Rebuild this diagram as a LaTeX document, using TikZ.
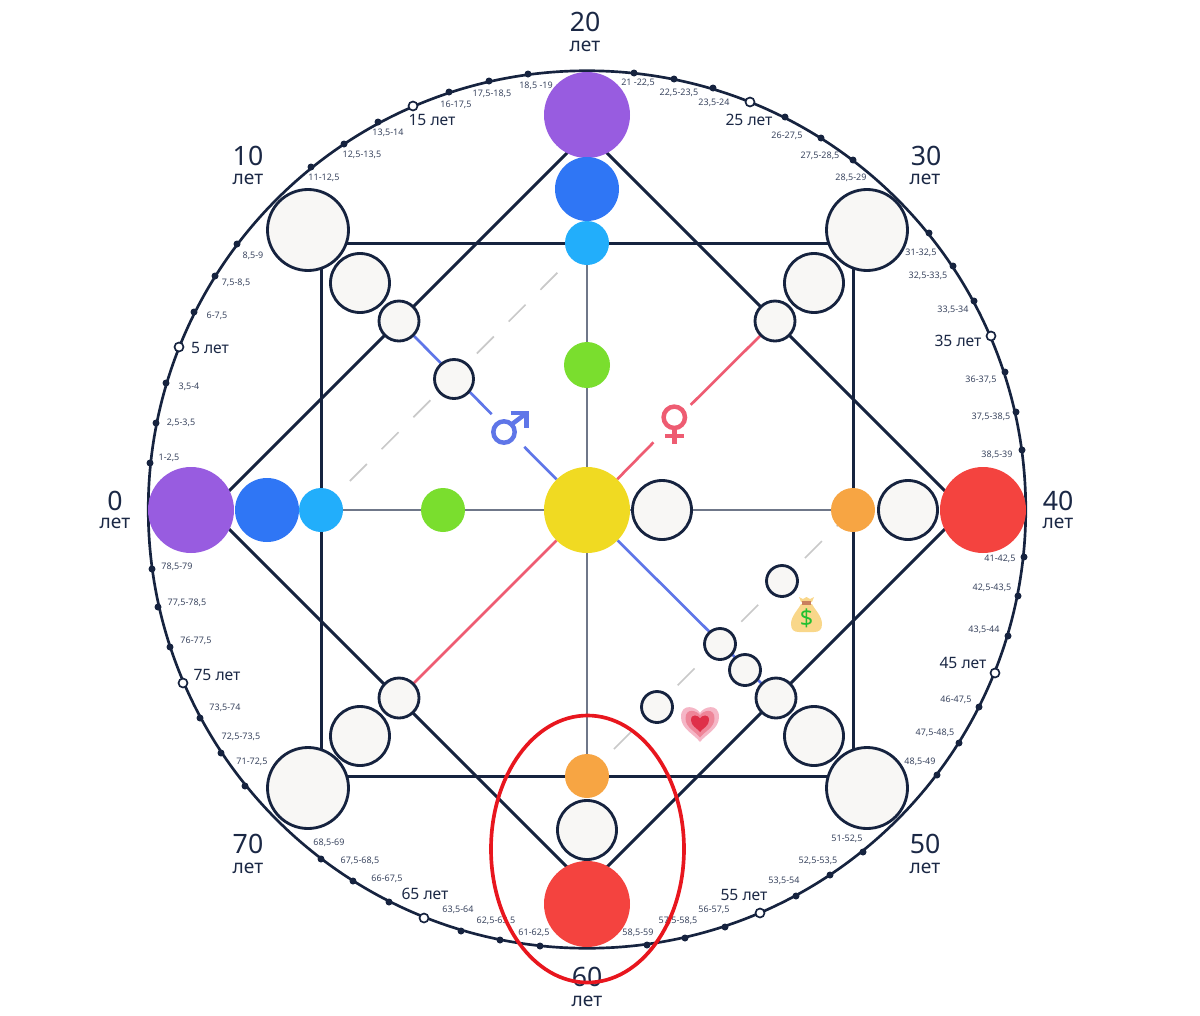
\documentclass[tikz,border=0pt]{standalone}
\usepackage{fontspec}
\setmainfont{Noto Sans}
\usetikzlibrary{backgrounds}
\definecolor{navy}{HTML}{16233F}
\definecolor{ink}{HTML}{1B2845}
\definecolor{smallink}{HTML}{3B4660}
\definecolor{paper}{HTML}{F8F7F5}
\definecolor{cpurple}{HTML}{985CE0}
\definecolor{cblue}{HTML}{2F76F5}
\definecolor{csky}{HTML}{22AEFB}
\definecolor{cgreen}{HTML}{7ADE2E}
\definecolor{cyellow}{HTML}{F0DA22}
\definecolor{corange}{HTML}{F7A543}
\definecolor{cred}{HTML}{F4433F}
\definecolor{malec}{HTML}{5F76E8}
\definecolor{femalec}{HTML}{EE5C72}
\definecolor{axisgray}{HTML}{6F7789}
\definecolor{dashgray}{HTML}{C9C9C9}
\definecolor{ovalred}{HTML}{E8161E}
\definecolor{bagc}{HTML}{F9D78A}
\definecolor{tiec}{HTML}{C9805F}
\definecolor{dollarc}{HTML}{22C030}
\tikzset{
  disc/.style={circle,inner sep=0pt,outer sep=0pt,minimum size=#1*0.6pt},
  ball/.style 2 args={disc=#1,fill=#2},
  ringdisc/.style={disc=#1,draw=navy,line width=1.7pt,fill=paper},
  ticksolid/.style={disc=7,fill=navy},
  tickopen/.style={disc=9,fill=white,draw=navy,line width=1pt},
  bigage/.style={text=ink,font=\fontsize{16}{18}\selectfont,inner sep=0pt},
  bigunit/.style={text=ink,font=\fontsize{11.5}{13}\selectfont,inner sep=0pt},
  midage/.style={text=ink,font=\fontsize{9.4}{11}\selectfont,inner sep=0pt},
  tinyage/.style={text=smallink,font=\fontsize{5.4}{6}\selectfont,inner sep=0pt},
  heavy/.style={draw=navy,line width=1.8pt},
  axisline/.style={draw=axisgray,line width=1.6pt},
  maleline/.style={draw=malec,line width=1.6pt},
  femaleline/.style={draw=femalec,line width=1.6pt},
  dashline/.style={draw=dashgray,line width=1pt,dash pattern=on 14.4pt off 12.6pt},
  symbolstroke/.style={line width=2.7pt,line cap=butt},
}
\begin{document}
\begin{tikzpicture}[x=0.6pt,y=-0.6pt]
\useasboundingbox (0,0) rectangle (1200,1016);

% coloured nodes
\node[ball={86}{cpurple}] (pT) at (587,115) {};
\node[ball={64}{cblue}]   (bT) at (587,189) {};
\node[ball={44}{csky}]    (sT) at (587,243) {};
\node[ball={46}{cgreen}]  (gT) at (587,365) {};
\node[ball={86}{cyellow}] (Y)  at (587,510) {};
\node[ball={86}{cpurple}] (pL) at (191,510) {};
\node[ball={64}{cblue}]   (bL) at (267,510) {};
\node[ball={44}{csky}]    (sL) at (321,510) {};
\node[ball={44}{cgreen}]  (gL) at (443,510) {};
\node[ball={44}{corange}] (oR) at (853,510) {};
\node[ball={86}{cred}]    (rR) at (983,510) {};
\node[ball={44}{corange}] (oB) at (587,776) {};
\node[ball={86}{cred}]    (rB) at (587,904) {};
% white nodes
\node[ringdisc=59] (wR1) at (662,510) {};
\node[ringdisc=59] (wR2) at (908,510) {};
\node[ringdisc=59] (wB)  at (587,830) {};
\foreach \n/\x/\y in {TL/308/230,TR/867/230,BL/308/788,BR/867/788}
  \node[ringdisc=81] (big\n) at (\x,\y) {};
\foreach \n/\x/\y in {TL/360/283,TR/814/283,BL/360/736,BR/814/736}
  \node[ringdisc=59] (mid\n) at (\x,\y) {};
\foreach \n/\x/\y in {TL/399/321,TR/775/321,BL/399/698,BR/776/698}
  \node[ringdisc=40] (sm\n) at (\x,\y) {};
\node[ringdisc=39] (xA) at (454,379) {};
\foreach \n/\x/\y in {B/782/581,C/720/644,D/745/670,E/657/707}
  \node[ringdisc=31] (x\n) at (\x,\y) {};

% gaps kept free for the two symbols
\node[disc=46] (maleSym) at (508,430.5) {};
\node[disc=53] (femaleSym) at (672,423.5) {};

% square corners
\coordinate (qTL) at (321,243);
\coordinate (qTR) at (853,243);
\coordinate (qBR) at (853,776);
\coordinate (qBL) at (321,776);
% diamond corners (hidden under the large discs)
\coordinate (dT) at (587,133);
\coordinate (dR) at (964,510);
\coordinate (dB) at (587,887);
\coordinate (dL) at (210,510);

\begin{scope}[on background layer]
  \node[circle,draw=navy,line width=1.6pt,inner sep=0pt,outer sep=0pt,minimum size=526.5pt] (ring) at (587,509.5) {};
  \draw[heavy] (qTL) -- (qTR) -- (qBR) -- (qBL) -- cycle;
  \draw[heavy] (dT) -- (dR) -- (dB) -- (dL) -- cycle;
  \draw[axisline] (sT.center) -- (oB.center);
  \draw[axisline] (sL.center) -- (oR.center);
  \draw[maleline] (smTL) -- (maleSym);
  \draw[maleline] (maleSym) -- (Y);
  \draw[maleline] (Y) -- (smBR);
  \draw[femaleline] (smTR) -- (femaleSym);
  \draw[femaleline] (femaleSym) -- (Y);
  \draw[femaleline] (Y) -- (smBL);
  \draw[dashline,dash phase=1.8pt] (sT.center) -- (sL.center);
  \draw[dashline,dash phase=0.6pt] (oR.center) -- (oB.center);
\end{scope}

% male symbol
\draw[malec,symbolstroke] (504,432) circle (10.7);
\draw[malec,symbolstroke] (511.5,424.5) -- (526,413.5);
\draw[malec,symbolstroke] (510.5,413) -- (526.5,413) -- (526.5,428);
% female symbol
\draw[femalec,symbolstroke] (674.3,417.3) circle (10.7);
\draw[femalec,symbolstroke] (674.3,428) -- (674.3,444);
\draw[femalec,symbolstroke] (665,436) -- (683.5,436);

% money bag
\fill[bagc] (801,604) .. controls (798,610) and (791,616) .. (791,624) .. controls (791,630) and (794,632) .. (799,632) -- (814,632) .. controls (819,632) and (822,630) .. (822,624) .. controls (822,616) and (815,610) .. (812,604) -- cycle;
\fill[bagc] (799,597) -- (803,599) -- (806.5,597) -- (810,599) -- (814,597) -- (812,602) -- (801,602) -- cycle;
\fill[tiec] (802,601) rectangle (811,604.5);
\node[inner sep=0pt,text=dollarc,font=\fontsize{14}{14}\bfseries\selectfont] (dollar) at (806.5,618.5) {\$};

% heart
\foreach \s/\c in {19/F5B6C6,14.5/EE8699,9/DF3049}{
  \definecolor{heartc}{HTML}{\c}
  \begin{scope}[shift={(700,723)},scale=\s/19]
    \fill[heartc] (0,-10) .. controls (-3,-16) and (-19,-21) .. (-19,-6) .. controls (-19,6) and (-6,11) .. (0,19) .. controls (6,11) and (19,6) .. (19,-6) .. controls (19,-21) and (3,-16) .. (0,-10) -- cycle;
  \end{scope}
}

% ticks on the ring
\foreach \x/\y [count=\i] in {528/74,489/81,449/92,378/122,344/144,311/167,237/244,215/276,194/312,166/383,156/423,150/463,634/73,674/79,713/88,785/117,821/138,853/160,929/233,953/266,974/301,1005/372,1016/412,1022/450,152/569,158/607,170/647,200/718,221/753,245/786,321/859,353/881,389/902,461/931,500/940,540/946,1024/557,1018/596,1008/636,979/707,959/743,937/775,863/852,830/875,796/896,725/927,685/938,647/945}
  \node[ticksolid] (tick\i) at (\x,\y) {};
\foreach \x/\y [count=\i] in {413/106,179/347,750/102,991/336,183/683,424/918,995/673,760/913}
  \node[tickopen] (open\i) at (\x,\y) {};

% big age labels
\foreach \x/\y/\t [count=\i] in {585/22/20,248/156/10,926/156/30,115/501/0,1058/501/40,248/844/70,925/844/50,587/977/60}
  \node[bigage] (age\i) at (\x,\y) {\t};
\foreach \x/\y [count=\i] in {585/46,248/179,925/179,115/523,1058/523,248/868,925/868,587/1001}
  \node[bigunit] (unit\i) at (\x,\y) {лет};
% middle labels
\foreach \x/\y/\t [count=\i] in {432/120/15,210/348/5,749/120/25,958/341/35,217/675/75,425/894/65,963/663/45,744/895/55}
  \node[midage] (mid\i) at (\x,\y) {\t{} лет};
% small labels
\foreach \x/\y/\t [count=\i] in {
 536/86/{18,5 -19},492/94/{17,5-18,5},456/105/{16-17,5},388/133/{13,5-14},362/155/{12,5-13,5},324/178/{11-12,5},
 253/256/{8,5-9},236/283/{7,5-8,5},217/316/{6-7,5},189/387/{3,5-4},181/423/{2,5-3,5},169/458/{1-2,5},
 638/83/{21 -22,5},679/93/{22,5-23,5},714/103/{23,5-24},787/136/{26-27,5},820/156/{27,5-28,5},851/178/{28,5-29},
 921/253/{31-32,5},928/276/{32,5-33,5},953/310/{33,5-34},981/380/{36-37,5},991/417/{37,5-38,5},997/455/{38,5-39},
 1000/559/{41-42,5},992/588/{42,5-43,5},984/630/{43,5-44},956/700/{46-47,5},935/733/{47,5-48,5},920/762/{48,5-49},
 847/839/{51-52,5},818/861/{52,5-53,5},784/881/{53,5-54},714/910/{56-57,5},678/921/{57,5-58,5},638/933/{58,5-59},
 534/933/{61-62,5},496/921/{62,5-63,5},458/910/{63,5-64},387/879/{66-67,5},360/861/{67,5-68,5},329/843/{68,5-69},
 252/762/{71-72,5},241/737/{72,5-73,5},225/708/{73,5-74},196/641/{76-77,5},187/603/{77,5-78,5},177/567/{78,5-79}}
  \node[tinyage] (lab\i) at (\x,\y) {\t};

% red oval on top of everything
\draw[ovalred,line width=2.2pt] (587.5,849) ellipse (96.5 and 133.5);
\end{tikzpicture}
\end{document}
